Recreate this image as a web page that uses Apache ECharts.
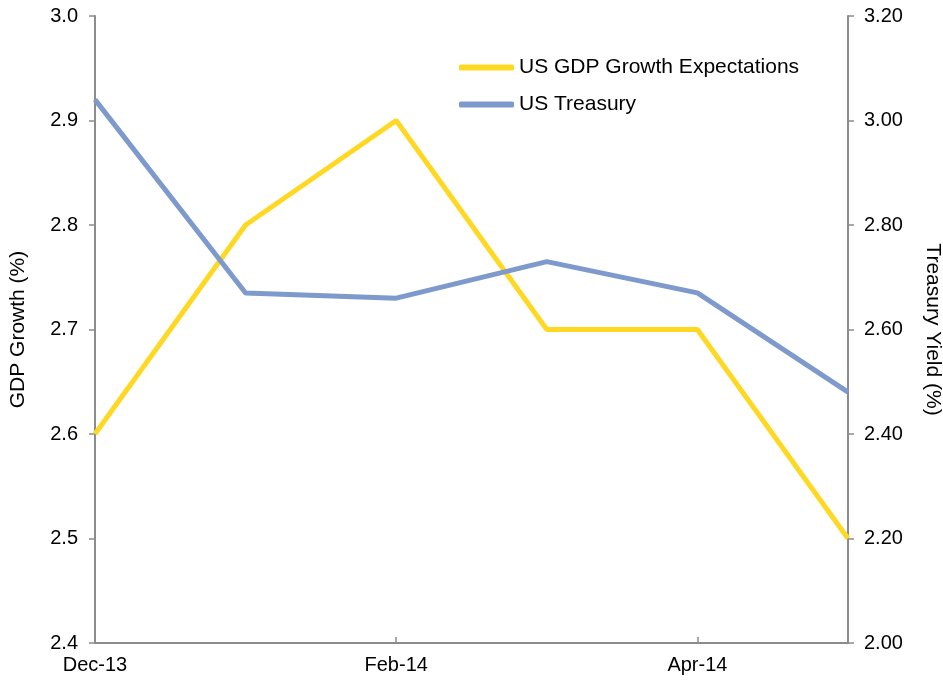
<!DOCTYPE html>
<html>
<head>
<meta charset="utf-8">
<style>
  html, body { margin: 0; padding: 0; background: #fff; }
  #chart { width: 943px; height: 681px; }
</style>
<script src="https://cdn.jsdelivr.net/npm/echarts@6/dist/echarts.min.js"></script>
</head>
<body>
<div id="chart"></div>
<script>
// Monthly observations
const months = ['Dec-13', 'Jan-14', 'Feb-14', 'Mar-14', 'Apr-14', 'May-14'];
const gdpGrowth = [2.6, 2.8, 2.9, 2.7, 2.7, 2.5];
const treasuryYield = [3.04, 2.67, 2.66, 2.73, 2.67, 2.48];

const axisGray = '#8c8c8c';
const font = 'Liberation Sans, Arial, sans-serif';

const chart = echarts.init(document.getElementById('chart'));
chart.setOption({
  animation: false,
  textStyle: { fontFamily: font },
  grid: { left: 95, right: 95, top: 16, bottom: 38, containLabel: false, outerBoundsMode: 'none' },
  legend: {
    orient: 'vertical',
    left: 454,
    top: 52,
    itemWidth: 55,
    itemHeight: 6,
    itemGap: 16,
    icon: 'roundRect',
    textStyle: { fontSize: 21, color: '#000', fontFamily: font },
    data: ['US GDP Growth Expectations', 'US Treasury']
  },
  xAxis: {
    type: 'category',
    data: months,
    boundaryGap: false,
    axisLine: { lineStyle: { color: axisGray, width: 2 } },
    axisTick: { inside: true, interval: 1, length: 6, lineStyle: { color: axisGray, width: 1.5 } },
    axisLabel: { interval: 1, color: '#000', fontSize: 20, margin: 12, fontFamily: font }
  },
  yAxis: [
    {
      type: 'value',
      min: 2.4, max: 3.0, interval: 0.1,
      name: 'GDP Growth (%)',
      nameLocation: 'middle',
      nameGap: 66,
      nameTextStyle: { fontSize: 21, color: '#000', fontFamily: font },
      axisLine: { show: true, lineStyle: { color: axisGray, width: 2 } },
      axisTick: { show: true, length: 6, lineStyle: { color: axisGray, width: 1.5 } },
      splitLine: { show: false },
      axisLabel: { color: '#000', fontSize: 20, margin: 17, fontFamily: font, formatter: v => v.toFixed(1) }
    },
    {
      type: 'value',
      min: 2.0, max: 3.2, interval: 0.2,
      name: 'Treasury Yield (%)',
      nameLocation: 'middle',
      nameGap: 74,
      nameRotate: -90,
      nameTextStyle: { fontSize: 21, color: '#000', fontFamily: font },
      axisLine: { show: true, lineStyle: { color: axisGray, width: 2 } },
      axisTick: { show: true, length: 6, lineStyle: { color: axisGray, width: 1.5 } },
      splitLine: { show: false },
      axisLabel: { color: '#000', fontSize: 20, margin: 16, fontFamily: font, formatter: v => v.toFixed(2) }
    }
  ],
  series: [
    {
      name: 'US GDP Growth Expectations',
      type: 'line',
      yAxisIndex: 0,
      data: gdpGrowth,
      symbol: 'none',
      color: '#FFD823',
      lineStyle: { width: 5, color: '#FFD823' }
    },
    {
      name: 'US Treasury',
      type: 'line',
      yAxisIndex: 1,
      data: treasuryYield,
      symbol: 'none',
      color: '#7E99CB',
      lineStyle: { width: 5, color: '#7E99CB' }
    }
  ]
});
</script>
</body>
</html>
